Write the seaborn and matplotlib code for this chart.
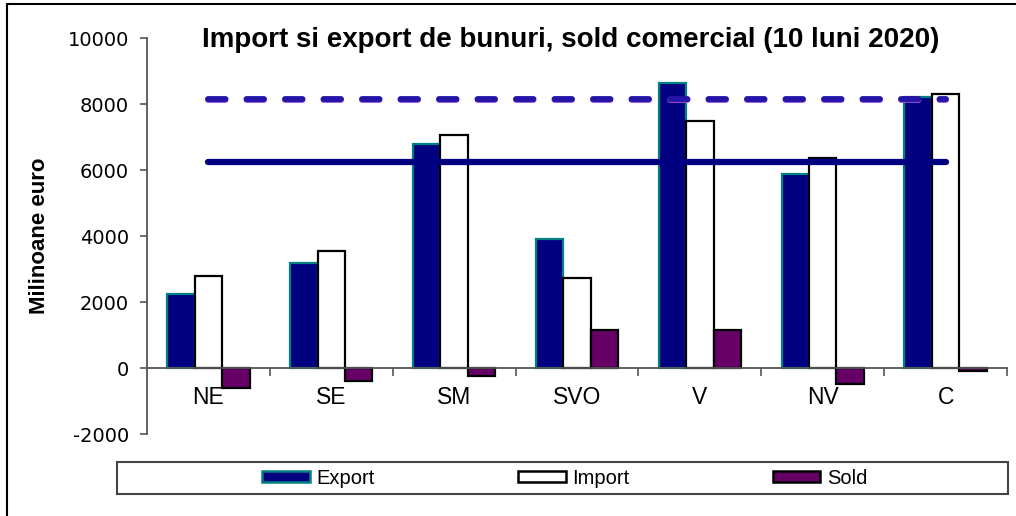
import numpy as np
import pandas as pd
import seaborn as sns
import matplotlib.pyplot as plt
from matplotlib.patches import Patch, Rectangle
from matplotlib.lines import Line2D

# values (milioane euro)
regions = ["NE", "SE", "SM", "SVO", "V", "NV", "C"]
export = [2230, 3190, 6790, 3900, 8630, 5870, 8200]
imports = [2800, 3555, 7060, 2730, 7480, 6350, 8290]
sold = [-600, -385, -245, 1150, 1150, -475, -95]
series = ["Export", "Import", "Sold"]
line_dashed = 8150
line_solid = 6240

face = {"Export": "#000080", "Import": "#ffffff", "Sold": "#660066"}
edge = {"Export": "#008080", "Import": "#000000", "Sold": "#000000"}

df = pd.DataFrame({
    "Regiune": regions * 3,
    "Indicator": np.repeat(series, len(regions)),
    "Valoare": export + imports + sold,
})

sns.set_style("white")
plt.rcParams["font.family"] = ["Liberation Sans", "DejaVu Sans"]
plt.rcParams["axes.unicode_minus"] = False
plt.rcParams["text.color"] = "black"

fig = plt.figure(figsize=(10.16, 5.16), dpi=100)
ax = fig.add_axes([147 / 1016, 1 - 434 / 516, 860 / 1016, 396 / 516])

sns.barplot(data=df, x="Regiune", y="Valoare", hue="Indicator",
            order=regions, hue_order=series, palette=face,
            saturation=1, width=0.67, legend=False, ax=ax)
for name, cont in zip(series, ax.containers):
    for bar in cont:
        bar.set_edgecolor(edge[name])
        bar.set_linewidth(1.6)

# reference lines from first to last region
xs = [0, len(regions) - 1]
ax.plot(xs, [line_solid] * 2, color="#000080", lw=4.5,
        solid_capstyle="round", zorder=5)
ax.plot(xs, [line_dashed - 40] * 2, color="#a050d8", lw=4.2,
        linestyle=(0, (3.0, 3.6)), dash_capstyle="round", zorder=5)
ax.plot(xs, [line_dashed] * 2, color="#2414a8", lw=4.2,
        linestyle=(0, (3.0, 3.6)), dash_capstyle="round", zorder=6)

ax.set_xlim(-0.5, len(regions) - 0.5)
ax.set_ylim(-2000, 10000)
ax.set_yticks(range(-2000, 10001, 2000))
ax.set_xticks(range(len(regions)))
ax.set_xticks(np.arange(len(regions)) + 0.5, minor=True)
ax.set_xlabel("")
ax.set_ylabel("")

for s in ["top", "right"]:
    ax.spines[s].set_visible(False)
ax.spines["bottom"].set_position(("data", 0))
for s in ["left", "bottom"]:
    ax.spines[s].set_color("#555555")
    ax.spines[s].set_linewidth(1.3)

ax.tick_params(axis="y", direction="out", length=5, width=1.2, color="#555555",
               labelcolor="black", pad=8, labelsize=14, left=True)
for t in ax.get_yticklabels():
    t.set_fontfamily("DejaVu Sans")
ax.tick_params(axis="x", which="major", length=0, pad=13, labelsize=16.5,
               labelcolor="black")
ax.tick_params(axis="x", which="minor", direction="out", length=6, width=1.2,
               color="#555555", bottom=True)

fig.text(571 / 1016, 1 - 47 / 516, "Import si export de bunuri, sold comercial (10 luni 2020)",
         ha="center", va="baseline", fontsize=20, fontweight="bold", color="black")
fig.text(40 / 1016, 1 - 236 / 516, "Milinoane euro", rotation=90,
         ha="center", va="center", fontsize=16, fontweight="bold", color="black")

handles = [Patch(facecolor=face[n], edgecolor=edge[n], linewidth=1.8) for n in series]
leg = fig.legend(handles, series, loc="center", bbox_to_anchor=(565 / 1016, 1 - 478 / 516),
                 ncol=3, frameon=False, fontsize=14.5, handlelength=2.35, handleheight=0.5,
                 handletextpad=0.35, columnspacing=7.1)
for t in leg.get_texts():
    t.set_color("black")
fig.add_artist(Rectangle((117 / 1016, 1 - 494 / 516), (1008 - 117) / 1016, 32 / 516,
                         transform=fig.transFigure, fill=False, ec="#444444", lw=1.5))

# screenshot border (top and left)
fig.add_artist(Line2D([7 / 1016, 7 / 1016], [0, 1 - 4 / 516], color="black", lw=1.5))
fig.add_artist(Line2D([7 / 1016, 1], [1 - 4 / 516, 1 - 4 / 516], color="black", lw=1.5))

fig.savefig("out.png", dpi=100)
